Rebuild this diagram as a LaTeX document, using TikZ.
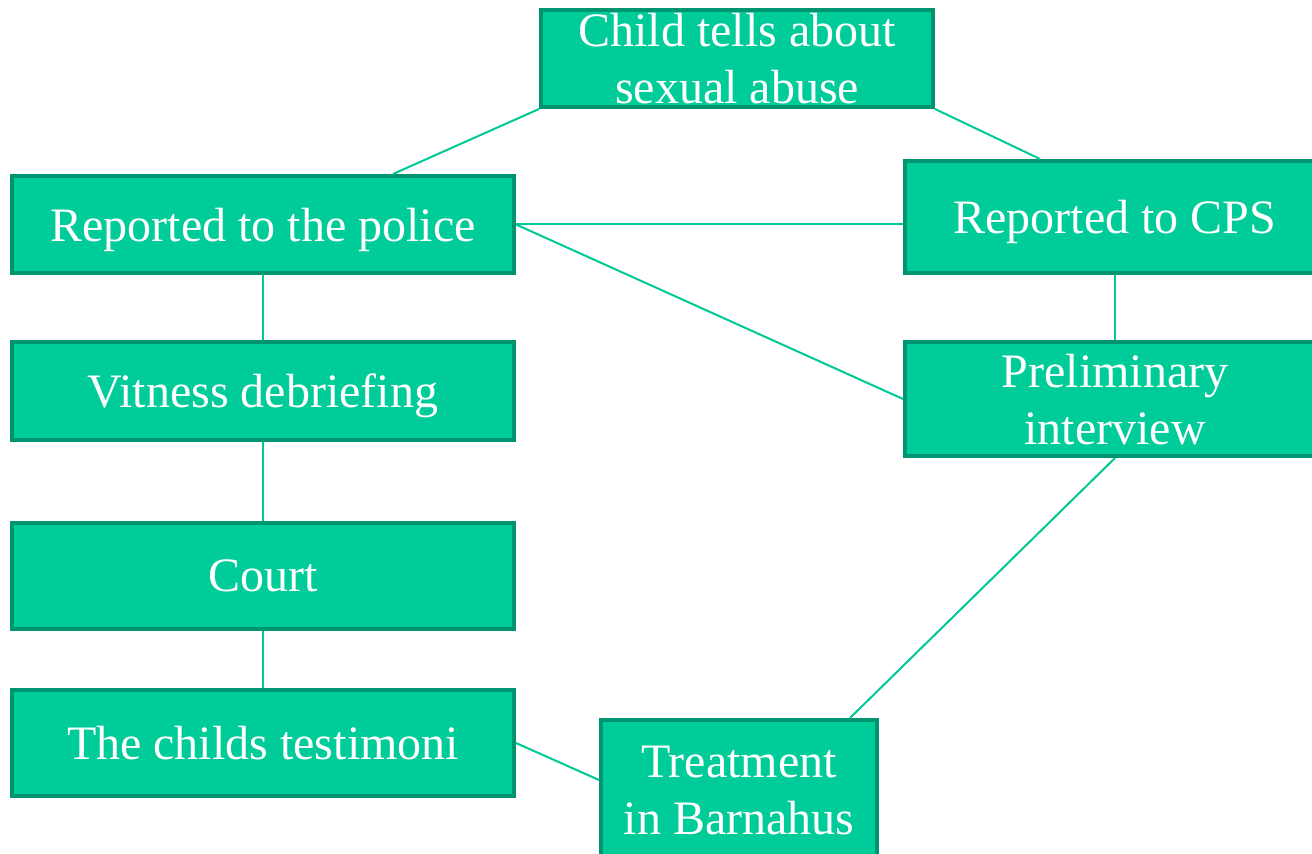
\documentclass[tikz,border=0pt]{standalone}
\usepackage{fontspec}
\setmainfont{Liberation Serif}
\usetikzlibrary{positioning}

\definecolor{boxfill}{HTML}{00CC99}
\definecolor{boxline}{HTML}{009470}
\definecolor{linkline}{HTML}{00C896}

\begin{document}
\begin{tikzpicture}[x=0.5pt,y=-0.5pt]
\useasboundingbox (0,0) rectangle (1312,854);
\clip (0,0) rectangle (1312,854);

\begin{scope}[every node/.style={draw=boxline,line width=2pt,fill=boxfill,rectangle,
                 text=white,align=center,inner sep=0pt,text depth=0pt,
                 font=\fontsize{24}{28.5}\selectfont}]
    \node[minimum width=196pt,minimum height=48.5pt] (child_tells) at (737,58.5)  {Child tells about\\sexual abuse};
    \node[minimum width=251pt,minimum height=48.5pt] (police)      at (263,224.5) {Reported to the police};
    \node[minimum width=210pt,minimum height=56pt]   (cps)         at (1115,217)  {Reported to CPS};
    \node[minimum width=251pt,minimum height=49pt]   (vitness)     at (263,391)   {Vitness debriefing};
    \node[minimum width=210pt,minimum height=57pt]   (prelim)      at (1115,399)  {Preliminary\\interview};
    \node[minimum width=251pt,minimum height=53pt]   (court)       at (263,576)   {Court};
    \node[minimum width=251pt,minimum height=53pt]   (testimoni)   at (263,743)   {The childs testimoni};
    \node[minimum width=138pt,minimum height=70pt]   (treatment)   at (739,790)   {Treatment\\in Barnahus};
\end{scope}

\begin{scope}[every edge/.style={draw=linkline,line width=1pt}]
    \path (child_tells.south west) edge ([xshift=65pt]police.north);
    \path (child_tells.south east) edge ([xshift=-37.5pt]cps.north);
    \path (police.east)            edge (police.east -| cps.west);
    \path (police.east)            edge (prelim.west);
    \path (cps.south)              edge (prelim.north);
    \path (police.south)           edge (vitness.north);
    \path (vitness.south)          edge (court.north);
    \path (court.south)            edge (testimoni.north);
    \path (prelim.south)           edge ([xshift=-14.5pt]treatment.north east);
    \path (testimoni.east)         edge ([yshift=5pt]treatment.west);
\end{scope}
\end{tikzpicture}
\end{document}
